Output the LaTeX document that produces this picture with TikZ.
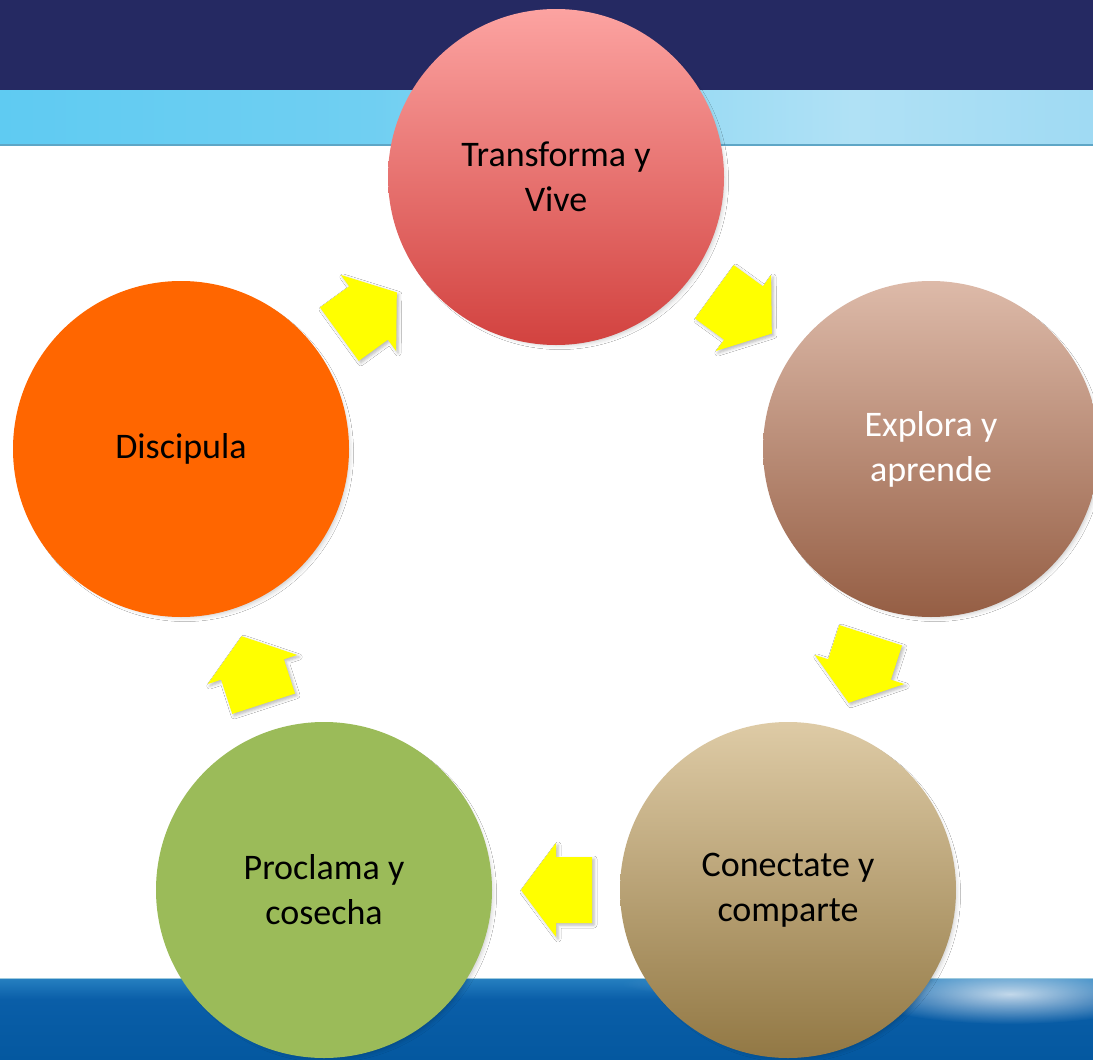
\documentclass[tikz,border=0pt]{standalone}
\usepackage{fontspec}
\setmainfont{Carlito}
\usetikzlibrary{calc,shadows.blur,fadings}
\definecolor{navy}{HTML}{252962}
\definecolor{lb1}{HTML}{66CBEF}
\definecolor{lb2}{HTML}{58C9F2}
\definecolor{lb3}{HTML}{70CFF2}
\definecolor{lb4}{HTML}{B0E1F5}
\definecolor{lb5}{HTML}{98D7F2}
\definecolor{lb6}{HTML}{74CCEF}
\definecolor{bandline}{HTML}{5EA6C6}
\definecolor{bb1}{HTML}{00549A}
\definecolor{bb2}{HTML}{0A5EA8}
\definecolor{bb3}{HTML}{3A98D2}
\definecolor{bb4}{HTML}{62C4EA}
\definecolor{tTop}{HTML}{FCA3A1}
\definecolor{tBot}{HTML}{D2423F}
\definecolor{rTop}{HTML}{DDBAA9}
\definecolor{rBot}{HTML}{955E44}
\definecolor{cTop}{HTML}{DECBA6}
\definecolor{cBot}{HTML}{927844}
\definecolor{pGreen}{HTML}{9BBB59}
\definecolor{dOrange}{HTML}{FF6600}
\definecolor{arrowyellow}{HTML}{FFFF00}
\pgfdeclarehorizontalshading{lightband}{100bp}{color(0bp)=(lb1); color(18bp)=(lb2); color(42bp)=(lb3); color(64bp)=(lb4); color(80bp)=(lb5); color(100bp)=(lb6)}
\pgfdeclareverticalshading{bottomband}{100bp}{color(0bp)=(bb1); color(62bp)=(bb2); color(84bp)=(bb3); color(100bp)=(bb4)}
\tikzfading[name=glowfade, inner color=transparent!25, outer color=transparent!100]
\tikzset{
  bub/.style={circle, minimum size=336pt, inner sep=0pt, align=center,
    font=\fontsize{36}{45}\selectfont,
    blur shadow={shadow xshift=4pt, shadow yshift=-4pt, shadow blur radius=5pt, shadow opacity=25, shadow scale=0.975}},
  arrowstyle/.style={fill=arrowyellow,
    blur shadow={shadow xshift=2pt, shadow yshift=-2pt, shadow blur radius=3pt, shadow opacity=28}},
  cyclearrow/.pic={\fill[arrowstyle] (35,0) -- (0,47) -- (0,33) -- (-36,33) -- (-36,-33) -- (0,-33) -- (0,-47) -- cycle;}
}
\begin{document}
\begin{tikzpicture}[x=1pt,y=-1pt]
\useasboundingbox (0,0) rectangle (1093,1060);
\clip (0,0) rectangle (1093,1060);
\fill[white] (0,0) rectangle (1093,1060);
% background bands
\fill[navy] (0,0) rectangle (1093,90);
\shade[shading=lightband] (0,90) rectangle (1093,145);
\draw[bandline, line width=1.2pt] (0,145) -- (1093,145);
\shade[shading=bottomband] (0,978) rectangle (1093,1060);
\begin{scope}
\clip (0,978) rectangle (1093,1060);
\fill[white, path fading=glowfade] (1010,994) ellipse [x radius=150pt, y radius=30pt];
\fill[white, opacity=0.35, path fading=glowfade] (780,984) ellipse [x radius=160pt, y radius=14pt];
\end{scope}
\draw[bandline!60, line width=0.8pt] (0,978) -- (1093,978);
% circles
\node[bub, top color=tTop, bottom color=tBot] (t) at (556,177) {Transforma y\\Vive};
\node[bub, top color=rTop, bottom color=rBot, text=white] (r) at (931,449) {Explora y\\aprende};
\node[bub, top color=cTop, bottom color=cBot] (c) at (788,890) {Conectate y\\comparte};
\node[bub, fill=pGreen] (p) at (324,890) {Proclama y\\cosecha};
\node[bub, fill=dOrange] (d) at (181,449) {Discipula};
% arrows
\pic[rotate=-36] at ($(t)!0.5!(r)$) {cyclearrow};
\pic[rotate=-108] at ($(r)!0.5!(c)$) {cyclearrow};
\pic[rotate=180] at ($(c)!0.5!(p)$) {cyclearrow};
\pic[rotate=108] at ($(p)!0.5!(d)$) {cyclearrow};
\pic[rotate=36] at ($(d)!0.5!(t)$) {cyclearrow};
\end{tikzpicture}
\end{document}
